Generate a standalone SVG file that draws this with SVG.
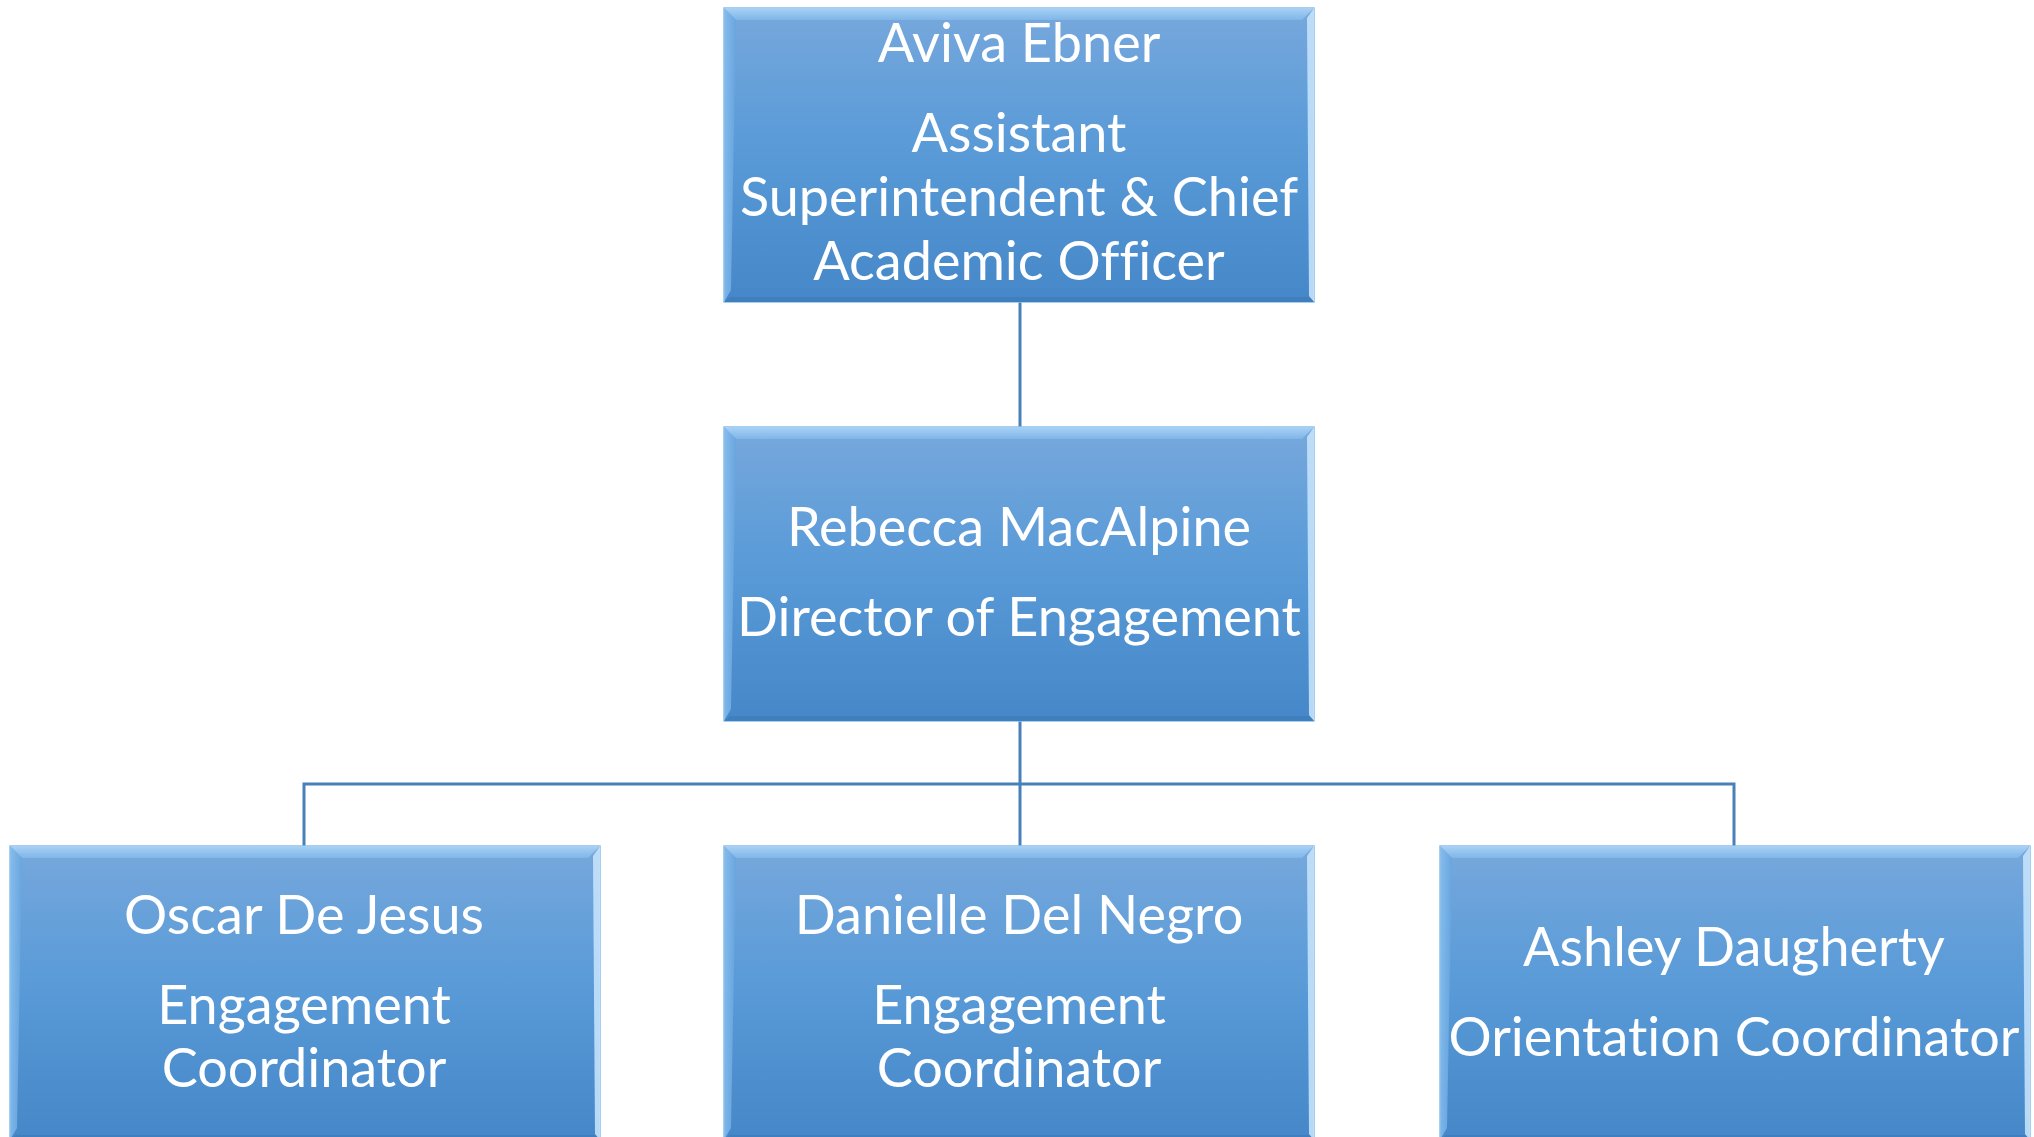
<svg xmlns="http://www.w3.org/2000/svg" width="2034" height="1137" viewBox="0 0 2034 1137">
<defs>
<linearGradient id="fill" x1="0" y1="0" x2="0" y2="1">
<stop offset="0" stop-color="#77a8dc"/>
<stop offset="0.45" stop-color="#5a9bd8"/>
<stop offset="1" stop-color="#4587c8"/>
</linearGradient>
<linearGradient id="topb" x1="0" y1="0" x2="0" y2="1">
<stop offset="0" stop-color="#a9d1f5"/>
<stop offset="1" stop-color="#7fb6e8"/>
</linearGradient>
<linearGradient id="leftb" x1="0" y1="0" x2="1" y2="0">
<stop offset="0" stop-color="#8cc2f0"/>
<stop offset="1" stop-color="#66a5df"/>
</linearGradient>
<symbol id="box" viewBox="0 0 590 294" overflow="visible">
<rect x="0" y="0" width="590" height="294" fill="url(#fill)" stroke="#8cbfe9" stroke-width="1.5"/>
<polygon points="0,0 590,0 578,12 12,12" fill="url(#topb)"/>
<polygon points="0,0 12,12 7,282 0,294" fill="url(#leftb)" opacity="0.8"/>
<polygon points="590,0 590,294 585,288 583,10" fill="#c4e2fb" opacity="0.9"/>
<polygon points="0,294 590,294 585,289 6,289" fill="#3f7fbe"/>
</symbol>
</defs>
<style>
.t{font-family:Lato,"Open Sans","Liberation Sans",sans-serif;font-size:54px;fill:#ffffff;text-anchor:middle;font-variant-ligatures:none;font-feature-settings:"liga" 0,"dlig" 0}
.c{fill:none;stroke:#4a80ba;stroke-width:3}
</style>
<rect width="2034" height="1137" fill="#ffffff"/>
<g id="connectors">
<line class="c" x1="1020" y1="302" x2="1020" y2="427"/>
<line class="c" x1="1020" y1="721" x2="1020" y2="846"/>
<polyline class="c" points="304,846 304,784 1734,784 1734,846"/>
</g>
<g id="n1">
<use href="#box" x="724" y="8" width="590" height="294"/>
<text class="t" x="1019" y="62">Aviva Ebner</text>
<text class="t" x="1019" y="152">Assistant</text>
<text class="t" x="1019" y="216">Superintendent &amp; Chief</text>
<text class="t" x="1019" y="280">Academic Officer</text>
</g>
<g id="n2">
<use href="#box" x="724" y="427" width="590" height="294"/>
<text class="t" x="1019" y="546">Rebecca MacAlpine</text>
<text class="t" x="1019" y="636">Director of Engagement</text>
</g>
<g id="n3">
<use href="#box" x="10" y="846" width="590" height="294"/>
<text class="t" x="304" y="934">Oscar De Jesus</text>
<text class="t" x="304" y="1024">Engagement</text>
<text class="t" x="304" y="1087">Coordinator</text>
</g>
<g id="n4">
<use href="#box" x="724" y="846" width="590" height="294"/>
<text class="t" x="1019" y="934">Danielle Del Negro</text>
<text class="t" x="1019" y="1024">Engagement</text>
<text class="t" x="1019" y="1087">Coordinator</text>
</g>
<g id="n5">
<use href="#box" x="1440" y="846" width="590" height="294"/>
<text class="t" x="1734" y="966">Ashley Daugherty</text>
<text class="t" x="1734" y="1056">Orientation Coordinator</text>
</g>
</svg>
